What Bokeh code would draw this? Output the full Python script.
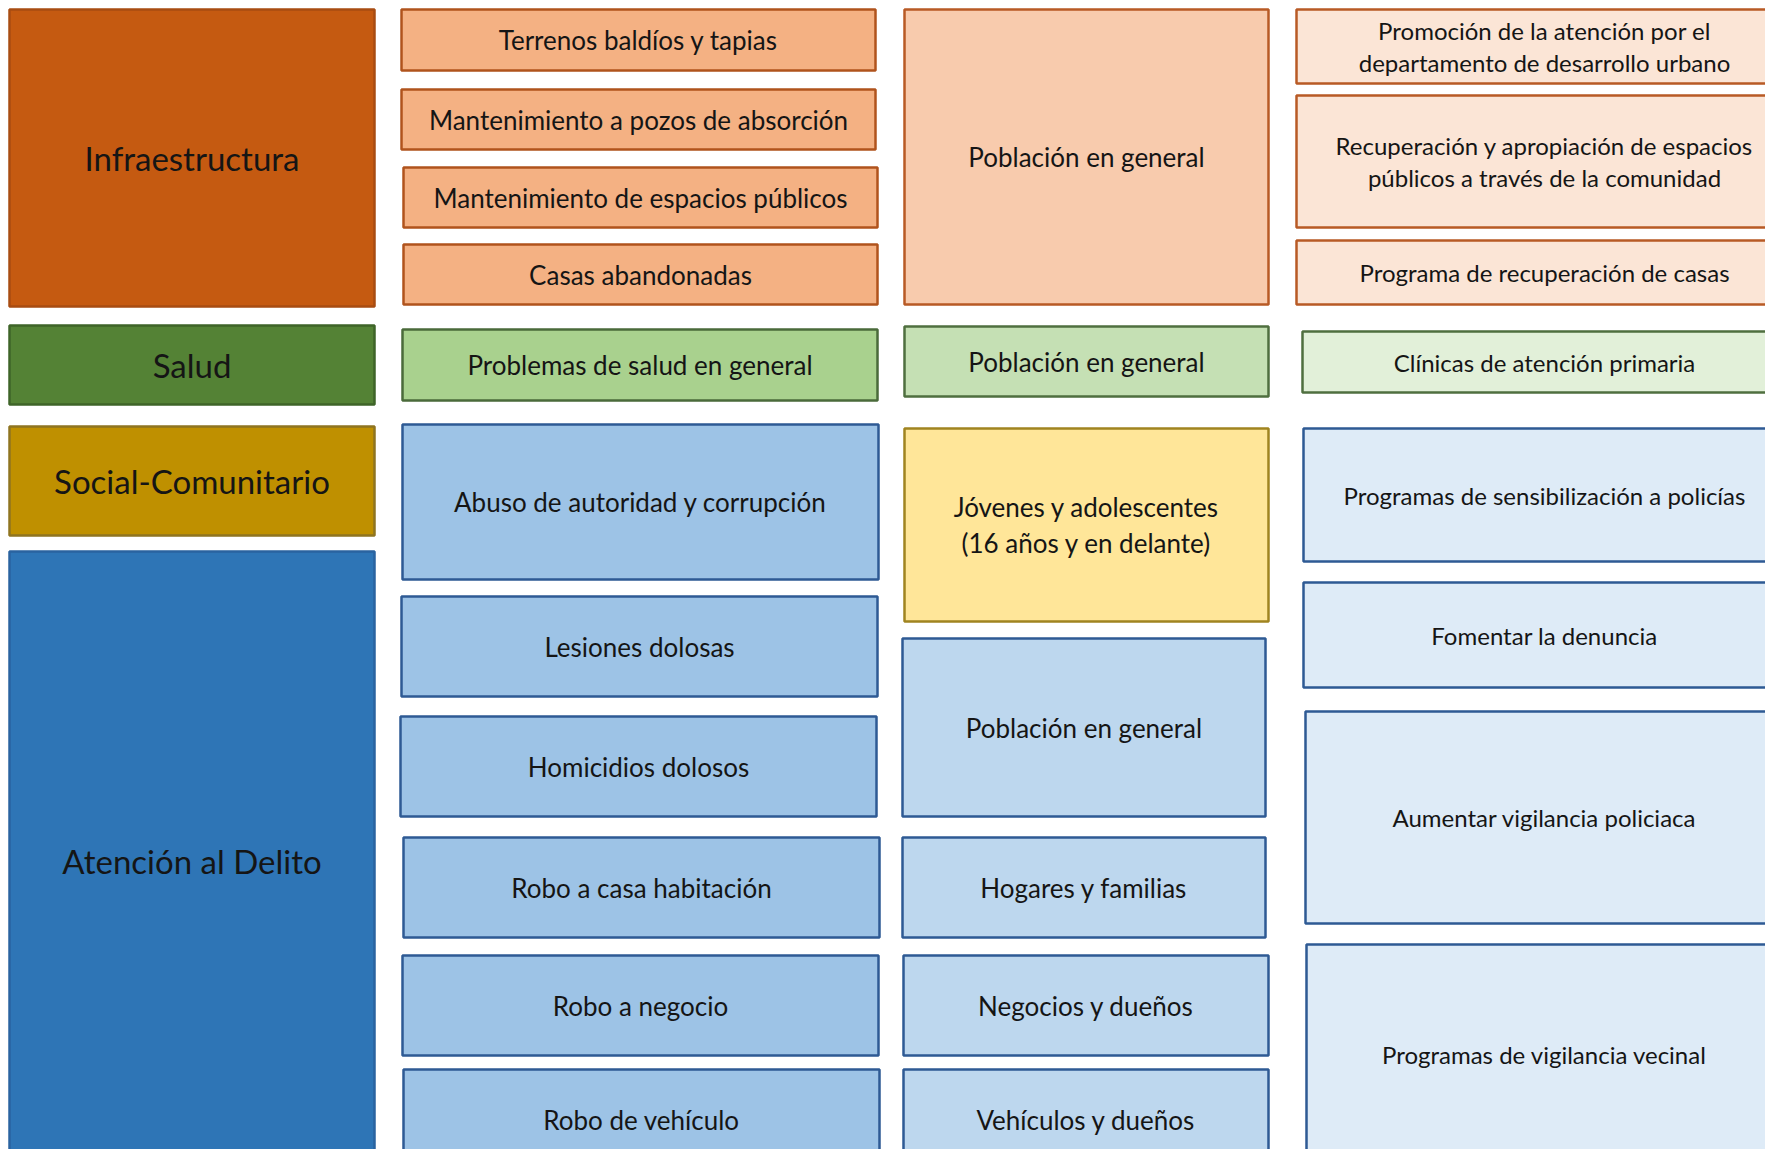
from bokeh.plotting import figure
from bokeh.models import Range1d, ColumnDataSource
from bokeh.core.properties import value
from bokeh.embed import file_html
from bokeh.resources import INLINE

# ---- content (text) ----
ejes = ["Infraestructura", "Salud", "Social-Comunitario", "Atención al Delito"]
problematicas = [
    "Terrenos baldíos y tapias",
    "Mantenimiento a pozos de absorción",
    "Mantenimiento de espacios públicos",
    "Casas abandonadas",
    "Problemas de salud en general",
    "Abuso de autoridad y corrupción",
    "Lesiones dolosas",
    "Homicidios dolosos",
    "Robo a casa habitación",
    "Robo a negocio",
    "Robo de vehículo",
]
poblacion = [
    "Población en general",
    "Población en general",
    "Jóvenes y adolescentes\n(16 años y en delante)",
    "Población en general",
    "Hogares y familias",
    "Negocios y dueños",
    "Vehículos y dueños",
]
acciones = [
    "Promoción de la atención por el\ndepartamento de desarrollo urbano",
    "Recuperación y apropiación de espacios\npúblicos a través de la comunidad",
    "Programa de recuperación de casas",
    "Clínicas de atención primaria",
    "Programas de sensibilización a policías",
    "Fomentar la denuncia",
    "Aumentar vigilancia policiaca",
    "Programas de vigilancia vecinal",
]

# ---- layout (picture pixels: left, right, top, bottom) ----
ejes_box = [(9, 374, 9, 306), (9, 374, 325, 404), (9, 374, 426, 535), (9, 374, 551, 1169)]
prob_box = [(401, 875, 9, 70), (401, 875, 89, 149), (403, 877, 167, 227), (403, 877, 244, 304),
            (402, 877, 329, 400), (402, 878, 424, 579), (401, 877, 596, 696), (400, 876, 716, 816),
            (403, 879, 837, 937), (402, 878, 955, 1055), (403, 879, 1069, 1169)]
pob_box = [(904, 1268, 9, 304), (904, 1268, 326, 396), (904, 1268, 428, 621), (902, 1265, 638, 816),
           (902, 1265, 837, 937), (903, 1268, 955, 1055), (903, 1268, 1069, 1169)]
acc_box = [(1296, 1795, 9, 83), (1296, 1795, 95, 227), (1296, 1795, 240, 304), (1302, 1795, 331, 392),
           (1303, 1795, 428, 561), (1303, 1795, 582, 687), (1305, 1795, 711, 923), (1306, 1795, 944, 1164)]
acc_text_x = 1544

# ---- styles ----
ejes_fill = ["#C55A11", "#548235", "#BF9000", "#2E75B6"]
ejes_line = ["#A84C12", "#3E6428", "#8F7420", "#2A63A0"]
prob_fill = ["#F4B183"] * 4 + ["#A9D18E"] + ["#9DC3E6"] * 6
prob_line = ["#B0531C"] * 4 + ["#4A6A3A"] + ["#2E5A94"] * 6
pob_fill = ["#F8CBAD", "#C5E0B4", "#FFE699", "#BDD7EE", "#BDD7EE", "#BDD7EE", "#BDD7EE"]
pob_line = ["#B85A25", "#4F6F3F", "#A08420", "#2E5A94", "#2E5A94", "#2E5A94", "#2E5A94"]
acc_fill = ["#FBE5D6"] * 3 + ["#E2F0D9"] + ["#DEEBF7"] * 4
acc_line = ["#B85A25"] * 3 + ["#4F6F3F"] + ["#2E5A94"] * 4

W, H = 1765, 1149
p = figure(width=W, height=H, output_backend="svg", toolbar_location=None,
           x_range=Range1d(0, W), y_range=Range1d(H, 0),
           min_border=0, min_border_left=0, min_border_right=0,
           min_border_top=0, min_border_bottom=0)
p.axis.visible = False
p.grid.visible = False
p.outline_line_color = None
p.background_fill_color = "white"
p.border_fill_color = "white"


def draw(labels, boxes, fills, lines, size, tx=None):
    src = ColumnDataSource(dict(
        left=[b[0] for b in boxes], right=[b[1] for b in boxes],
        top=[b[2] for b in boxes], bottom=[b[3] for b in boxes],
        fill=fills, line=lines, label=labels,
        cx=[tx if tx is not None else (b[0] + b[1]) / 2 for b in boxes],
        cy=[(b[2] + b[3]) / 2 for b in boxes],
    ))
    p.quad(left="left", right="right", top="top", bottom="bottom", source=src,
           fill_color="fill", line_color="line", line_width=2.5)
    p.text(x="cx", y="cy", text="label", source=src, text_align="center",
           text_baseline="middle", text_font=value("Lato"), text_font_size=size,
           text_color="#151515", text_line_height=1.12)


draw(ejes, ejes_box, ejes_fill, ejes_line, "33px")
draw(problematicas, prob_box, prob_fill, prob_line, "26px")
draw(poblacion, pob_box, pob_fill, pob_line, "26px")
draw(acciones, acc_box, acc_fill, acc_line, "24px", tx=acc_text_x)

open("out.html", "w").write(file_html(p, INLINE))
